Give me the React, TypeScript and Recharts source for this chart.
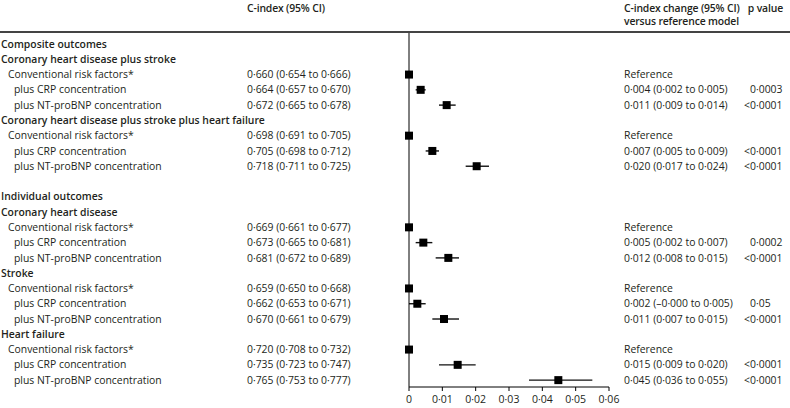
import { ComposedChart, ErrorBar, Scatter, XAxis, YAxis } from "recharts";

const FONT = '"Open Sans", sans-serif';
const INK = "#231f20";

// one entry per table row; "" is the spacer row between the two sections
const ROW_LABELS = [
  "Composite outcomes",
  "Coronary heart disease plus stroke",
  "Conventional risk factors*",
  "plus CRP concentration",
  "plus NT-proBNP concentration",
  "Coronary heart disease plus stroke plus heart failure",
  "Conventional risk factors*",
  "plus CRP concentration",
  "plus NT-proBNP concentration",
  "",
  "Individual outcomes",
  "Coronary heart disease",
  "Conventional risk factors*",
  "plus CRP concentration",
  "plus NT-proBNP concentration",
  "Stroke",
  "Conventional risk factors*",
  "plus CRP concentration",
  "plus NT-proBNP concentration",
  "Heart failure",
  "Conventional risk factors*",
  "plus CRP concentration",
  "plus NT-proBNP concentration",
];

// 0 = bold heading, 1 = reference model, 2 = added marker
const ROW_LEVEL = [0, 0, 1, 2, 2, 0, 1, 2, 2, 0, 0, 0, 1, 2, 2, 0, 1, 2, 2, 0, 1, 2, 2];

const C_INDEX = [
  "", "", "0·660 (0·654 to 0·666)", "0·664 (0·657 to 0·670)", "0·672 (0·665 to 0·678)",
  "", "0·698 (0·691 to 0·705)", "0·705 (0·698 to 0·712)", "0·718 (0·711 to 0·725)",
  "", "", "", "0·669 (0·661 to 0·677)", "0·673 (0·665 to 0·681)", "0·681 (0·672 to 0·689)",
  "", "0·659 (0·650 to 0·668)", "0·662 (0·653 to 0·671)", "0·670 (0·661 to 0·679)",
  "", "0·720 (0·708 to 0·732)", "0·735 (0·723 to 0·747)", "0·765 (0·753 to 0·777)",
];

const CHANGE_TEXT = [
  "", "", "Reference", "0·004 (0·002 to 0·005)", "0·011 (0·009 to 0·014)",
  "", "Reference", "0·007 (0·005 to 0·009)", "0·020 (0·017 to 0·024)",
  "", "", "", "Reference", "0·005 (0·002 to 0·007)", "0·012 (0·008 to 0·015)",
  "", "Reference", "0·002 (–0·000 to 0·005)", "0·011 (0·007 to 0·015)",
  "", "Reference", "0·015 (0·009 to 0·020)", "0·045 (0·036 to 0·055)",
];

const P_TEXT = [
  "", "", "", "0·0003", "<0·0001",
  "", "", "<0·0001", "<0·0001",
  "", "", "", "", "0·0002", "<0·0001",
  "", "", "0·05", "<0·0001",
  "", "", "<0·0001", "<0·0001",
];

// plotted estimates (rows that carry a marker)
const MODEL_ROWS = [2, 3, 4, 6, 7, 8, 12, 13, 14, 16, 17, 18, 20, 21, 22];
const CHANGE = [0, 0.0035, 0.0113, 0, 0.007, 0.0203, 0, 0.0043, 0.0118, 0, 0.0025, 0.0105, 0, 0.0146, 0.0448];
const CI_LOW = [0, 0.002, 0.009, 0, 0.005, 0.017, 0, 0.002, 0.008, 0, 0.0, 0.007, 0, 0.009, 0.036];
const CI_HIGH = [0, 0.005, 0.014, 0, 0.009, 0.024, 0, 0.007, 0.015, 0, 0.005, 0.015, 0, 0.02, 0.055];

const X_TICKS = [0, 0.01, 0.02, 0.03, 0.04, 0.05, 0.06];

const data = MODEL_ROWS.map((row, i) => ({
  row,
  change: CHANGE[i],
  err: [CHANGE[i] - CI_LOW[i], CI_HIGH[i] - CHANGE[i]],
}));

const labelRows = ROW_LABELS.map((_, i) => i).filter((i) => ROW_LABELS[i] !== "");

// p values line up on the decimal point
const P_DOT_X = 756;

function RowTick({ y, payload }: { y?: number; payload?: { value: number } }) {
  const i = payload?.value ?? 0;
  const level = ROW_LEVEL[i];
  const indent = level === 0 ? 1 : level === 1 ? 8 : 14;
  const p = P_TEXT[i];
  const cut = p.indexOf("·");
  return (
    <g fontFamily={FONT} fontSize={10.4} fill={INK}>
      <text x={indent} y={y} dy="0.35em" fontWeight={level === 0 ? 600 : 400}>
        {ROW_LABELS[i]}
      </text>
      <text x={247} y={y} dy="0.35em">
        {C_INDEX[i]}
      </text>
      <text x={624} y={y} dy="0.35em">
        {CHANGE_TEXT[i]}
      </text>
      {p && (
        <>
          <text x={P_DOT_X} y={y} dy="0.35em" textAnchor="end">
            {p.slice(0, cut)}
          </text>
          <text x={P_DOT_X} y={y} dy="0.35em">
            {p.slice(cut)}
          </text>
        </>
      )}
    </g>
  );
}

function SquareDot({ cx, cy }: { cx?: number; cy?: number }) {
  if (cx == null || cy == null) return null;
  return <rect x={cx - 4} y={cy - 4} width={8} height={8} fill="#000" />;
}

const headStyle: React.CSSProperties = {
  position: "absolute",
  fontFamily: FONT,
  fontSize: 10.4,
  fontWeight: 600,
  letterSpacing: "-0.15px",
  lineHeight: "13px",
  color: INK,
  whiteSpace: "nowrap",
};

export default function App() {
  return (
    <div style={{ position: "relative", width: 790, height: 408 }}>
      <style>{`body{margin:0}`}</style>
      <div style={{ ...headStyle, left: 247, top: 2 }}>C-index (95% CI)</div>
      <div style={{ ...headStyle, left: 624, top: 2 }}>
        C-index change (95% CI)
        <br />
        versus reference model
      </div>
      <div style={{ ...headStyle, right: 7, top: 2 }}>p value</div>
      <div
        style={{ position: "absolute", left: 0, top: 31, width: 790, height: 1.5, background: "#444" }}
      />
      <ComposedChart
        width={790}
        height={408}
        data={data}
        margin={{ top: 33, right: 181, bottom: 0, left: 408 }}
        style={{ position: "absolute", left: 0, top: 0 }}
      >
        <XAxis
          type="number"
          dataKey="change"
          domain={[0, 0.06]}
          ticks={X_TICKS}
          interval={0}
          tickFormatter={(v: number) => (v === 0 ? "0" : v.toFixed(2).replace(".", "·"))}
          tick={{ fontFamily: FONT, fontSize: 10.5, fill: INK }}
          tickSize={4}
          tickMargin={5}
          stroke="#000"
          height={21}
        />
        <YAxis
          type="number"
          dataKey="row"
          width={1}
          reversed
          domain={[-0.72, 22.45]}
          ticks={labelRows}
          interval={0}
          tick={<RowTick />}
          tickLine={false}
          stroke="#000"
          allowDataOverflow
        />
        <Scatter dataKey="change" shape={<SquareDot />} isAnimationActive={false}>
          <ErrorBar dataKey="err" direction="x" width={0} stroke="#111" strokeWidth={1.4} />
        </Scatter>
      </ComposedChart>
    </div>
  );
}
